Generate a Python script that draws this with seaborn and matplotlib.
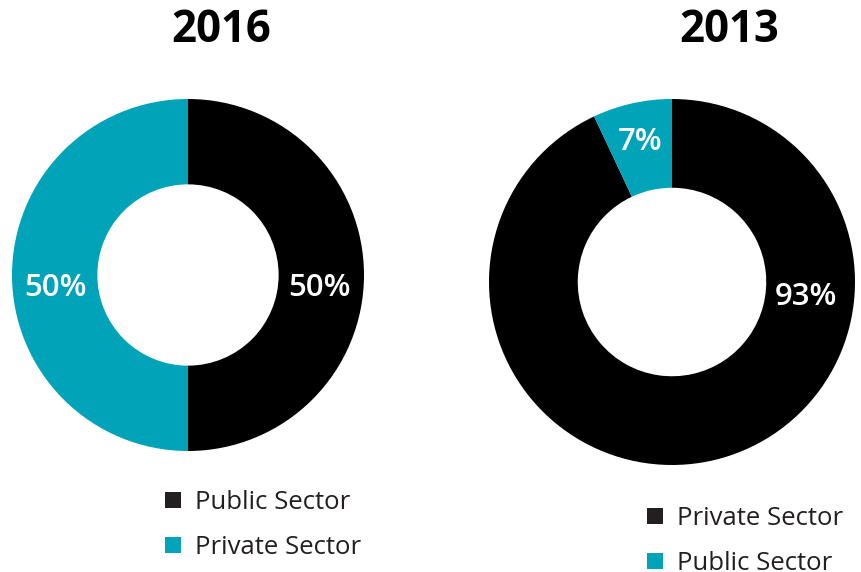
import seaborn as sns
import matplotlib.pyplot as plt
from matplotlib.patches import Patch

# data
years = ['2016', '2013']
sectors_2016 = ['Public Sector', 'Private Sector']
values_2016 = [50, 50]
sectors_2013 = ['Private Sector', 'Public Sector']
values_2013 = [93, 7]

BLACK = '#000000'
TEAL = '#00a3b8'
LEG_BLACK = '#231f20'

sns.set_theme(style="white")
plt.rcParams['font.family'] = ['Open Sans', 'DejaVu Sans']

W, H = 861, 572
fig = plt.figure(figsize=(W / 100, H / 100), dpi=100)


def donut(rect, values, colors, labels, label_pos, legend_labels, legend_colors, legend_xy):
    ax = fig.add_axes(rect)
    ax.pie(values, colors=colors, startangle=90, counterclock=False, radius=1,
           wedgeprops=dict(width=0.485, linewidth=0))
    ax.set_xlim(-1, 1)
    ax.set_ylim(-1, 1)
    ax.set_aspect('equal')
    ax.axis('off')
    for lab, (x, y) in zip(labels, label_pos):
        ax.text(x, y, lab, color='white', fontsize=22.5, fontweight='semibold',
                ha='center', va='center')
    handles = [Patch(facecolor=c, edgecolor='none') for c in legend_colors]
    fig.legend(handles, legend_labels, loc='upper left',
               bbox_to_anchor=(legend_xy[0] / W, 1 - legend_xy[1] / H),
               frameon=False, fontsize=18.5, borderpad=0, borderaxespad=0,
               handlelength=0.62, handleheight=0.62, handletextpad=0.55,
               labelspacing=0.78, labelcolor='#231f20')
    return ax


# 2016
donut([12 / W, 121 / H, 352 / W, 352 / H], values_2016, [BLACK, TEAL],
      [f'{v}%' for v in values_2016], [(0.75, -0.075), (-0.755, -0.075)],
      sectors_2016, [LEG_BLACK, TEAL], (165, 490))

# 2013
donut([489 / W, 107 / H, 366 / W, 366 / H], values_2013, [BLACK, TEAL],
      [f'{v}%' for v in values_2013], [(0.73, -0.08), (-0.175, 0.765)],
      sectors_2013, [LEG_BLACK, TEAL], (647, 506))

fig.text(221 / W, 1 - 30 / H, years[0], ha='center', va='center',
         fontsize=31.5, fontweight='bold', color='black')
fig.text(729 / W, 1 - 30 / H, years[1], ha='center', va='center',
         fontsize=31.5, fontweight='bold', color='black')

fig.savefig('out.png', dpi=100)
